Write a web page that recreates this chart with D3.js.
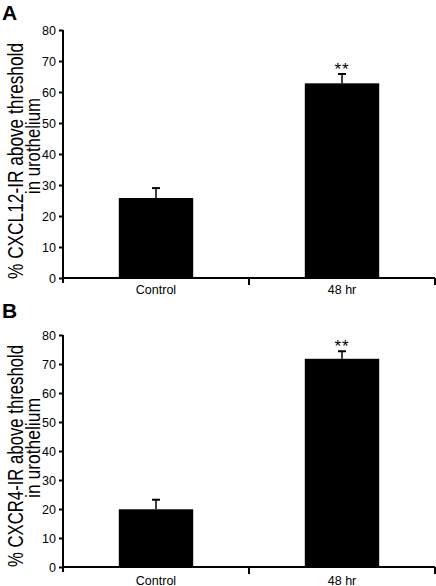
<!DOCTYPE html>
<html><head><meta charset="utf-8">
<script src="https://cdn.jsdelivr.net/npm/d3@7"></script>
<style>body{margin:0;background:#fff}svg{display:block}text{font-family:"Liberation Sans",Arial,sans-serif;fill:#000}</style>
</head><body>
<script>
const categories = ["Control", "48 hr"];
const valuesA = [25.8, 62.8];
const errorsA = [3.2, 3.0];
const valuesB = [19.9, 71.8];
const errorsB = [3.3, 2.6];
const signifLabels = ["", "**"];
const yTicks = [0, 10, 20, 30, 40, 50, 60, 70, 80];
const panelLetters = ["A", "B"];
const yLabelsA = ["% CXCL12-IR above threshold", "in urothelium"];
const yLabelsB = ["% CXCR4-IR above threshold", "in urothelium"];

const W = 436, H = 586;
const svg = d3.select("body").append("svg").attr("width", W).attr("height", H);

const panels = [
  {letter: panelLetters[0], vals: valuesA, errs: errorsA, labels: yLabelsA, top: 30, bottom: 278, letterY: 19.5, catY: 294, l1: 161, l2: 146, len1: 236, len2: 96},
  {letter: panelLetters[1], vals: valuesB, errs: errorsB, labels: yLabelsB, top: 335, bottom: 567, letterY: 318, catY: 585, l1: 456, l2: 448, len1: 222, len2: 100}
];

const x = d3.scaleBand().domain(categories).range([63, 435]).paddingInner(0.6).paddingOuter(0.3);

panels.forEach(p => {
  const g = svg.append("g");
  const y = d3.scaleLinear().domain([0, 80]).range([p.bottom, p.top]);

  g.append("text").text(p.letter).attr("x", 2).attr("y", p.letterY)
    .style("font-size", "21px").style("font-weight", "bold");

  // bars
  g.selectAll("rect.bar").data(categories).join("rect")
    .attr("x", d => x(d)).attr("width", x.bandwidth())
    .attr("y", (d, i) => y(p.vals[i])).attr("height", (d, i) => p.bottom - y(p.vals[i]))
    .attr("fill", "#000");

  // error bars
  categories.forEach((c, i) => {
    const cx = x(c) + x.bandwidth() / 2;
    g.append("line").attr("x1", cx).attr("x2", cx)
      .attr("y1", y(p.vals[i])).attr("y2", y(p.vals[i] + p.errs[i]))
      .attr("stroke", "#000").attr("stroke-width", 1.5);
    g.append("line").attr("x1", cx - 4).attr("x2", cx + 4)
      .attr("y1", y(p.vals[i] + p.errs[i])).attr("y2", y(p.vals[i] + p.errs[i]))
      .attr("stroke", "#000").attr("stroke-width", 2);
    if (signifLabels[i]) {
      g.append("text").text(signifLabels[i]).attr("x", cx)
        .attr("y", y(p.vals[i] + p.errs[i]) + 1)
        .attr("text-anchor", "middle").style("font-size", "17px").style("letter-spacing", "1px");
    }
  });

  // y axis
  const ya = g.append("g").attr("transform", "translate(63,0)")
    .call(d3.axisLeft(y).tickValues(yTicks).tickSize(4).tickPadding(3).tickSizeOuter(0));
  ya.select(".domain").attr("stroke-width", 2).attr("d", `M0,${p.top}V${p.bottom + 5}`);
  ya.selectAll(".tick line").attr("stroke-width", 2);
  ya.selectAll(".tick text").style("font-size", "12.5px").style("font-family", "Liberation Sans, Arial, sans-serif");

  // x axis
  g.append("line").attr("x1", 62).attr("x2", 435).attr("y1", p.bottom).attr("y2", p.bottom)
    .attr("stroke", "#000").attr("stroke-width", 2);
  const bounds = [x(categories[1]) - x.step() * x.paddingInner() / 2, 435];
  bounds.forEach(bx => {
    g.append("line").attr("x1", bx).attr("x2", bx).attr("y1", p.bottom).attr("y2", p.bottom + 7)
      .attr("stroke", "#000").attr("stroke-width", 2);
  });
  g.selectAll("text.cat").data(categories).join("text").attr("class", "cat")
    .text(d => d).attr("x", d => x(d) + x.bandwidth() / 2).attr("y", p.catY)
    .attr("text-anchor", "middle").style("font-size", "12.5px");

  // y label
  g.append("text").text(p.labels[0])
    .attr("transform", `translate(23,${p.l1}) rotate(-90) scale(1,1.3)`)
    .attr("text-anchor", "middle").style("font-size", "17px")
    .attr("textLength", p.len1).attr("lengthAdjust", "spacingAndGlyphs");
  g.append("text").text(p.labels[1])
    .attr("transform", `translate(40,${p.l2}) rotate(-90) scale(1,1.2)`)
    .attr("text-anchor", "middle").style("font-size", "17px")
    .attr("textLength", p.len2).attr("lengthAdjust", "spacingAndGlyphs");
});
</script>
</body></html>
